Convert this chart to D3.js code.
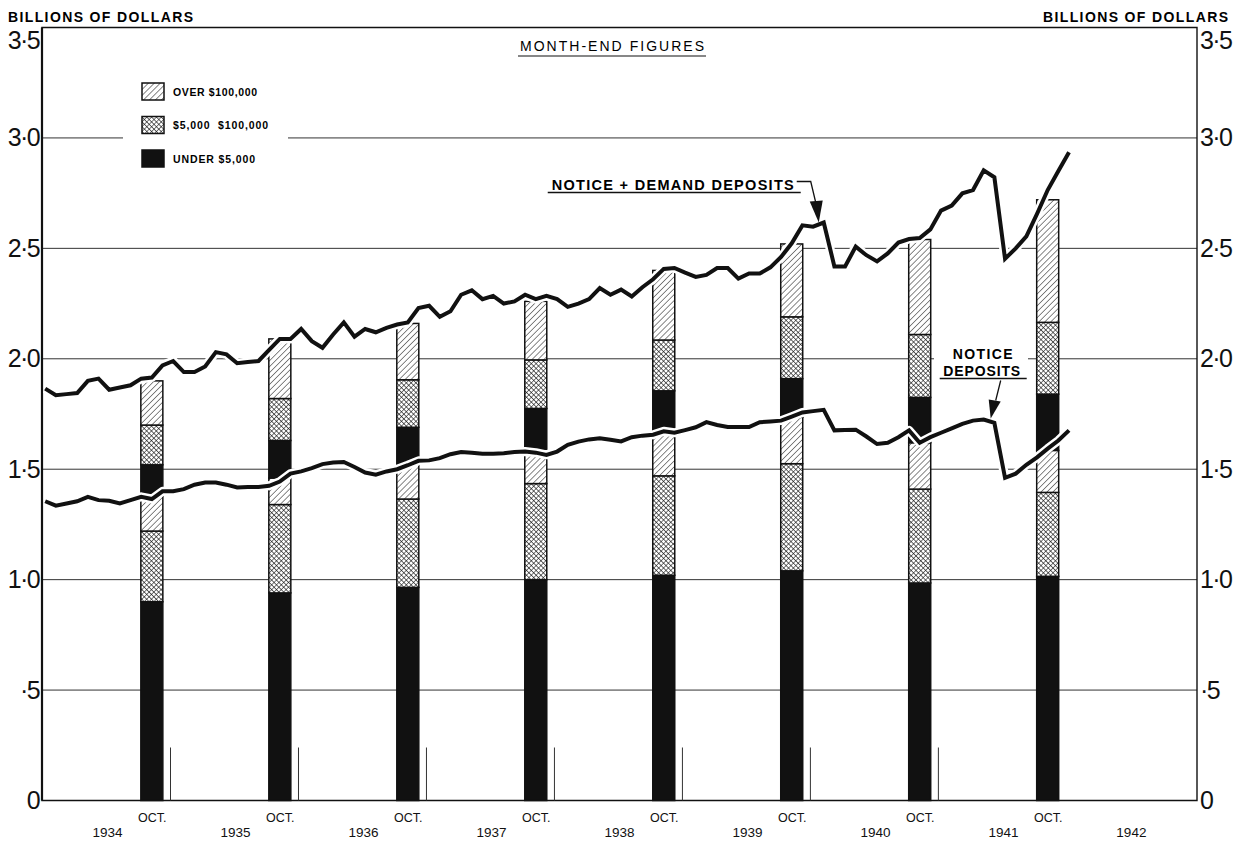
<!DOCTYPE html>
<html lang="en">
<head>
<meta charset="UTF-8" />
<title>Notice and Demand Deposits 1934-1941</title>
<script src="https://d3js.org/d3.v7.min.js"></script>
<style>
  body { margin: 0; background: #fff; }
  svg { display: block; font-family: "Liberation Sans", Arial, sans-serif; }
  .yaxis text { font-size: 25px; fill: #111; letter-spacing: -1.6px; }
  .xaxis text { font-size: 12.5px; fill: #111; }
  .years text { font-size: 13.5px; }
</style>
</head>
<body>
<svg id="chart" width="1236" height="844"></svg>
<script>
// month index: 0 = Jan 1934, series start Dec 1933 (-1)
const firstMonth = -1;

// month-end, billions of dollars
const totalDeposits = [
  1.865, 1.835, 1.84, 1.845, 1.90, 1.91, 1.86, 1.87, 1.88, 1.91, 1.915, 1.97, 1.99,
  1.94, 1.94, 1.965, 2.03, 2.02, 1.98, 1.985, 1.99, 2.04, 2.09, 2.09, 2.135,
  2.08, 2.05, 2.11, 2.165, 2.10, 2.135, 2.12, 2.14, 2.155, 2.165, 2.23, 2.24,
  2.19, 2.215, 2.29, 2.31, 2.27, 2.285, 2.25, 2.26, 2.29, 2.27, 2.285, 2.27,
  2.235, 2.25, 2.27, 2.32, 2.29, 2.313, 2.282, 2.324, 2.36, 2.407, 2.411, 2.39,
  2.371, 2.38, 2.411, 2.411, 2.363, 2.386, 2.386, 2.414, 2.461, 2.523, 2.604, 2.598,
  2.617, 2.418, 2.418, 2.508, 2.469, 2.441, 2.477, 2.526, 2.542, 2.547, 2.586, 2.671,
  2.694, 2.749, 2.764, 2.853, 2.822, 2.453, 2.50, 2.554, 2.656, 2.764, 2.85, 2.935
];
const noticeDeposits = [
  1.355, 1.335, 1.345, 1.355, 1.375, 1.36, 1.357, 1.345, 1.36, 1.375, 1.365, 1.40, 1.40,
  1.41, 1.43, 1.44, 1.44, 1.43, 1.417, 1.42, 1.42, 1.425, 1.444, 1.48, 1.49,
  1.505, 1.523, 1.53, 1.533, 1.51, 1.485, 1.475, 1.49, 1.50, 1.518, 1.538, 1.54,
  1.55, 1.568, 1.578, 1.575, 1.57, 1.57, 1.572, 1.578, 1.58, 1.575, 1.565, 1.58,
  1.61, 1.625, 1.635, 1.64, 1.633, 1.626, 1.645, 1.652, 1.656, 1.672, 1.665, 1.677,
  1.69, 1.713, 1.70, 1.691, 1.691, 1.691, 1.713, 1.716, 1.72, 1.738, 1.757, 1.763,
  1.769, 1.676, 1.678, 1.679, 1.648, 1.614, 1.62, 1.645, 1.676, 1.62, 1.645, 1.665,
  1.685, 1.705, 1.72, 1.725, 1.71, 1.461, 1.48, 1.52, 1.554, 1.593, 1.63, 1.676
];

// October bars, by size of account
const barYears = [1934, 1935, 1936, 1937, 1938, 1939, 1940, 1941];
const noticeUnder5k     = [0.90, 0.94, 0.965, 1.00, 1.02, 1.04, 0.985, 1.015];
const notice5kTo100k    = [0.32, 0.40, 0.40, 0.435, 0.45, 0.485, 0.425, 0.38];
const noticeOver100k    = [0.16, 0.12, 0.155, 0.145, 0.195, 0.21, 0.21, 0.19];
const demandUnder5k     = [0.14, 0.17, 0.17, 0.195, 0.19, 0.175, 0.205, 0.255];
const demand5kTo100k    = [0.18, 0.19, 0.215, 0.22, 0.23, 0.28, 0.285, 0.325];
const demandOver100k    = [0.20, 0.27, 0.255, 0.265, 0.315, 0.33, 0.43, 0.555];

const yTicks = [0, 0.5, 1, 1.5, 2, 2.5, 3, 3.5];
const yTickLabels = ["0", "·5", "1·0", "1·5", "2·0", "2·5", "3·0", "3·5"];
const yearLabels = ["1934", "1935", "1936", "1937", "1938", "1939", "1940", "1941", "1942"];
const legendLabels = ["OVER $100,000", "$5,000  $100,000", "UNDER $5,000"];

const svg = d3.select("#chart");
const left = 42, right = 1197;

const x = d3.scaleLinear().domain([-1.3, 107]).range([left, right]);
const y = d3.scaleLinear().domain([0, 3.5]).range([800.5, 27.5]);

// patterns
const defs = svg.append("defs");
const hatch = defs.append("pattern").attr("id", "hatch")
  .attr("patternUnits", "userSpaceOnUse").attr("width", 4.2).attr("height", 4.2)
  .attr("patternTransform", "rotate(45)");
hatch.append("rect").attr("width", 4.2).attr("height", 4.2).attr("fill", "#fff");
hatch.append("line").attr("x1", 0).attr("y1", 0).attr("x2", 0).attr("y2", 4.2)
  .attr("stroke", "#111").attr("stroke-width", 1);
const cross = defs.append("pattern").attr("id", "cross")
  .attr("patternUnits", "userSpaceOnUse").attr("width", 3.4).attr("height", 3.4)
  .attr("patternTransform", "rotate(45)");
cross.append("rect").attr("width", 3.4).attr("height", 3.4).attr("fill", "#fff");
cross.append("path").attr("d", "M0,0V3.4M0,0H3.4")
  .attr("stroke", "#111").attr("stroke-width", 1.1);

const fills = {
  noticeUnder5k: "#111", notice5kTo100k: "url(#cross)", noticeOver100k: "url(#hatch)",
  demandUnder5k: "#111", demand5kTo100k: "url(#cross)", demandOver100k: "url(#hatch)"
};

// gridlines
svg.append("g").selectAll("line")
  .data(yTicks.filter(d => d > 0 && d < 3.5))
  .join("line")
  .attr("x1", left).attr("x2", right)
  .attr("y1", d => y(d)).attr("y2", d => y(d))
  .attr("stroke", "#333").attr("stroke-width", 1);

// white gaps behind legend and notice label
svg.append("rect").attr("x", 123).attr("y", 70).attr("width", 165).attr("height", 110).attr("fill", "#fff");
svg.append("rect").attr("x", 934).attr("y", 342).attr("width", 94).attr("height", 38).attr("fill", "#fff");

// frame
svg.append("path")
  .attr("d", `M${left},${y(0)}V${y(3.5)}H${right}V${y(0)}Z`)
  .attr("fill", "none").attr("stroke", "#111").attr("stroke-width", 1.4);
svg.append("line").attr("x1", left).attr("x2", left).attr("y1", y(0)).attr("y2", y(3.5))
  .attr("stroke", "#111").attr("stroke-width", 2.2);

// stacked bars
const keys = Object.keys(fills);
const rows = barYears.map((yr, i) => ({
  month: (yr - 1934) * 12 + 9,
  noticeUnder5k: noticeUnder5k[i], notice5kTo100k: notice5kTo100k[i], noticeOver100k: noticeOver100k[i],
  demandUnder5k: demandUnder5k[i], demand5kTo100k: demand5kTo100k[i], demandOver100k: demandOver100k[i]
}));
const stacked = d3.stack().keys(keys)(rows);
const barW = 22;

svg.append("g").selectAll("g")
  .data(stacked)
  .join("g")
  .attr("fill", d => fills[d.key])
  .selectAll("rect")
  .data(d => d)
  .join("rect")
  .attr("x", d => x(d.data.month) - barW / 2)
  .attr("width", barW)
  .attr("y", d => y(d[1]))
  .attr("height", d => y(d[0]) - y(d[1]))
  .attr("stroke", "#111").attr("stroke-width", 1.5);

// year-end marks
svg.append("g").selectAll("line")
  .data(rows.slice(0, 7))
  .join("line")
  .attr("x1", d => x(d.month + 1.75)).attr("x2", d => x(d.month + 1.75))
  .attr("y1", y(0)).attr("y2", y(0) - 53)
  .attr("stroke", "#333").attr("stroke-width", 1);

// lines
const line = d3.line().x((d, i) => x(firstMonth + i)).y(d => y(d));
[noticeDeposits, totalDeposits].forEach(series => {
  svg.append("path").attr("d", line(series))
    .attr("fill", "none").attr("stroke", "#fff").attr("stroke-width", 9)
    .attr("stroke-linejoin", "round");
  svg.append("path").attr("d", line(series))
    .attr("fill", "none").attr("stroke", "#111").attr("stroke-width", 4)
    .attr("stroke-linejoin", "miter").attr("stroke-miterlimit", 3);
});

// annotation: notice + demand deposits
const t1 = { x: x(72) - 5, y: y(totalDeposits[72 - firstMonth]) };
const a1 = svg.append("g");
a1.append("text").attr("x", t1.x - 25).attr("y", t1.y - 33)
  .attr("text-anchor", "end").attr("font-size", 14.5).attr("font-weight", "bold")
  .attr("textLength", 242).attr("lengthAdjust", "spacing")
  .text("NOTICE + DEMAND DEPOSITS");
a1.append("line").attr("x1", t1.x - 271).attr("x2", t1.x - 18)
  .attr("y1", t1.y - 30).attr("y2", t1.y - 30).attr("stroke", "#111").attr("stroke-width", 1.3);
a1.append("path").attr("d", `M${t1.x - 22},${t1.y - 41}H${t1.x - 8}L${t1.x - 3},${t1.y - 20}`)
  .attr("fill", "none").attr("stroke", "#111").attr("stroke-width", 1.3);
a1.append("path").attr("d", `M${t1.x - 9},${t1.y - 21}L${t1.x + 4},${t1.y - 22}L${t1.x},${t1.y}Z`)
  .attr("fill", "#111");

// annotation: notice deposits
const t2 = { x: x(87) + 7, y: y(noticeDeposits[87 - firstMonth]) - 1 };
const a2 = svg.append("g").attr("font-size", 14).attr("font-weight", "bold").attr("text-anchor", "middle");
a2.append("text").attr("x", t2.x - 8).attr("y", t2.y - 60)
  .attr("textLength", 60).attr("lengthAdjust", "spacing").text("NOTICE");
a2.append("text").attr("x", t2.x - 9).attr("y", t2.y - 43)
  .attr("textLength", 77).attr("lengthAdjust", "spacing").text("DEPOSITS");
a2.append("line").attr("x1", t2.x - 51).attr("x2", t2.x + 36)
  .attr("y1", t2.y - 40).attr("y2", t2.y - 40).attr("stroke", "#111").attr("stroke-width", 1.3);
a2.append("path").attr("d", `M${t2.x + 10},${t2.y - 38}L${t2.x + 5},${t2.y - 18}`)
  .attr("fill", "none").attr("stroke", "#111").attr("stroke-width", 1.3);
a2.append("path").attr("d", `M${t2.x - 2},${t2.y - 19}L${t2.x + 10},${t2.y - 17}L${t2.x},${t2.y}Z`)
  .attr("fill", "#111");

// legend
const legend = svg.append("g").attr("transform", "translate(142,83)");
const legendFills = ["url(#hatch)", "url(#cross)", "#111"];
const legendWidths = [84, 95, 82];
legendLabels.forEach((lab, i) => {
  const g = legend.append("g").attr("transform", `translate(0,${i * 33.5})`);
  g.append("rect").attr("width", 22).attr("height", 17)
    .attr("fill", legendFills[i]).attr("stroke", "#111").attr("stroke-width", 1.5);
  g.append("text").attr("x", 31).attr("y", 12.5)
    .attr("font-size", 10.5).attr("font-weight", "bold")
    .attr("textLength", legendWidths[i]).attr("lengthAdjust", "spacing")
    .style("white-space", "pre").text(lab);
});

// title
svg.append("text").attr("x", 612).attr("y", 51).attr("text-anchor", "middle")
  .attr("font-size", 14).attr("textLength", 184).attr("lengthAdjust", "spacing")
  .text("MONTH-END FIGURES");
svg.append("line").attr("x1", 518).attr("x2", 706).attr("y1", 56).attr("y2", 56)
  .attr("stroke", "#111").attr("stroke-width", 1.2);

// unit labels
[[8, "start"], [1228, "end"]].forEach(([px, anchor]) => {
  svg.append("text").attr("x", px).attr("y", 22).attr("text-anchor", anchor)
    .attr("font-size", 14).attr("font-weight", "bold")
    .attr("textLength", 185).attr("lengthAdjust", "spacing")
    .text("BILLIONS OF DOLLARS");
});

// y axes
const fmtY = d => yTickLabels[yTicks.indexOf(d)];
svg.append("g").attr("class", "yaxis").attr("transform", `translate(${left},0)`)
  .call(d3.axisLeft(y).tickValues(yTicks).tickFormat(fmtY).tickSize(0).tickPadding(3))
  .call(g => g.select(".domain").remove());
svg.append("g").attr("class", "yaxis").attr("transform", `translate(${right},0)`)
  .call(d3.axisRight(y).tickValues(yTicks).tickFormat(fmtY).tickSize(0).tickPadding(3))
  .call(g => g.select(".domain").remove());
svg.selectAll(".yaxis .tick text").filter(d => d === 3.5).attr("dy", "0.82em");

// x axes: OCT. and years
svg.append("g").attr("class", "xaxis").attr("transform", `translate(0,${y(0)})`)
  .call(d3.axisBottom(x).tickValues(rows.map(d => d.month)).tickFormat(() => "OCT.").tickSize(0).tickPadding(13))
  .call(g => g.select(".domain").remove());
svg.append("g").attr("class", "xaxis years").attr("transform", `translate(0,${y(0)})`)
  .call(d3.axisBottom(x).tickValues(yearLabels.map((d, i) => i * 12 + 4.8))
    .tickFormat((d, i) => yearLabels[i]).tickSize(0).tickPadding(27))
  .call(g => g.select(".domain").remove());
</script>
</body>
</html>
